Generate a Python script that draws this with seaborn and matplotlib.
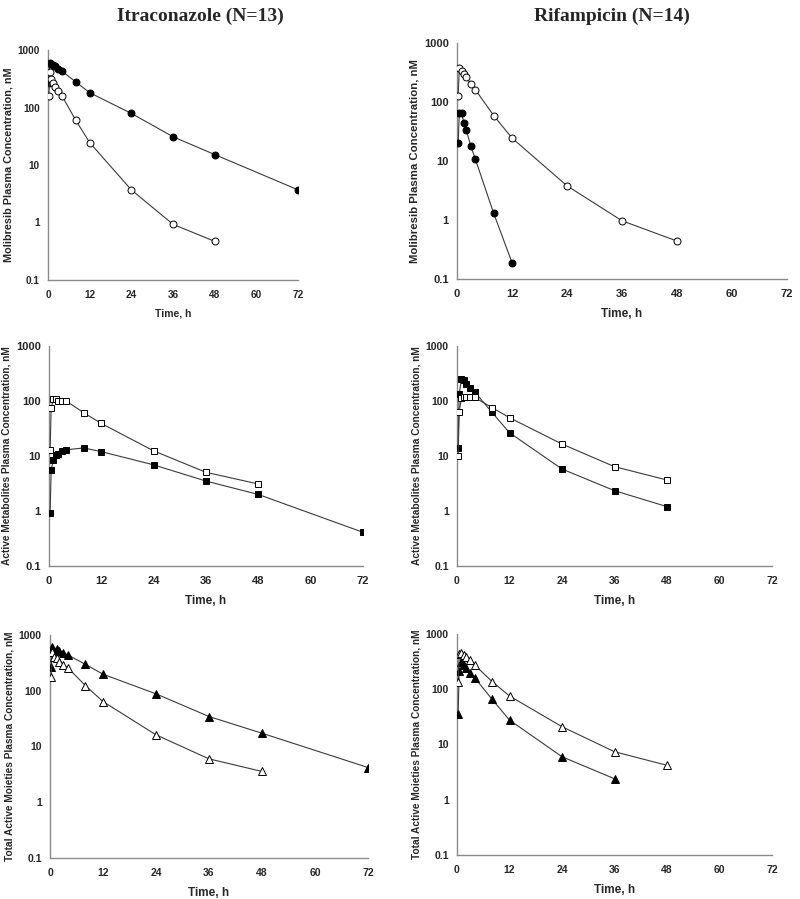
import matplotlib
matplotlib.use("Agg")
import matplotlib.pyplot as plt
import seaborn as sns
import numpy as np

sns.set_style("white")
plt.rcParams['font.family'] = ['Liberation Sans', 'DejaVu Sans']

# ---------------- data ----------------
t13 = [0.25, 0.5, 1, 1.5, 2, 3, 4, 8, 12, 24, 36, 48, 72]
t12 = [0.25, 0.5, 1, 1.5, 2, 3, 4, 8, 12, 24, 36, 48]
t11 = [0.25, 0.5, 1, 1.5, 2, 3, 4, 8, 12, 24, 36]
t9 = [0.25, 0.5, 1, 1.5, 2, 3, 4, 8, 12]

# Itraconazole - molibresib
itr_mol_with = [270, 600, 560, 540, 520, 470, 430, 278, 181, 79, 31, 15.2, 3.7]
itr_mol_alone = [160, 420, 310, 270, 230, 190, 160, 60, 24.5, 3.7, 0.93, 0.47]
# Rifampicin - molibresib
rif_mol_alone = [128, 370, 330, 300, 262, 205, 162, 59, 24.5, 3.8, 0.97, 0.44]
rif_mol_with = [20, 65, 65, 44, 34, 18, 10.8, 1.3, 0.19]
# Itraconazole - active metabolites
itr_met_alone = [12.8, 76, 107, 108, 100, 100, 99, 61, 39, 12.4, 5.05, 3.1]
itr_met_with = [0.93, 5.6, 8.4, 10.5, 11, 12.2, 13, 14, 12, 6.9, 3.5, 2.0, 0.41]
# Rifampicin - active metabolites
rif_met_with = [13.7, 132, 248, 240, 203, 175, 148, 62, 26.5, 5.8, 2.34, 1.2]
rif_met_alone = [10, 64, 112, 117, 120, 117, 116, 76, 49.7, 16.5, 6.4, 3.66]
# Itraconazole - total active moieties
itr_tot_with = [271, 618, 510, 555, 525, 483, 440, 298, 198, 88, 34.5, 17.3, 4.2]
itr_tot_alone = [174, 500, 410, 380, 333, 290, 260, 124, 64, 16.2, 6.0, 3.57]
# Rifampicin - total active moieties
rif_tot_alone = [134, 440, 450, 420, 380, 332, 277, 138, 75.6, 21, 7.4, 4.2]
rif_tot_with = [35, 210, 305, 277, 241, 195, 163, 66, 27.7, 6.0, 2.4]

xticks = [0, 12, 24, 36, 48, 60, 72]
yticks = [0.1, 1, 10, 100, 1000]
ytick_labels = ["0.1", "1", "10", "100", "1000"]

titles = ["Itraconazole (N=13)", "Rifampicin (N=14)"]
ylabels = ["Molibresib Plasma Concentration, nM",
           "Active Metabolites Plasma Concentration, nM",
           "Total Active Moieties Plasma Concentration, nM"]

fig = plt.figure(figsize=(8, 8.99), dpi=100)

W, H = 800.0, 899.0
def rect(x0, x1, yt, yb):
    return [x0 / W, 1 - yb / H, (x1 - x0) / W, (yb - yt) / H]

rects = {
    (0, 0): rect(48, 298, 50, 280),
    (0, 1): rect(457, 787, 43, 279),
    (1, 0): rect(49, 363, 346, 566),
    (1, 1): rect(457, 772, 346, 566),
    (2, 0): rect(50, 368, 635, 858),
    (2, 1): rect(457, 772, 634, 855),
}
ylab_fs = {(0, 0): 7.8, (0, 1): 8.2, (1, 0): 7.3, (1, 1): 7.3, (2, 0): 7.3, (2, 1): 7.3}
tick_fs = {(0, 0): 7.2, (0, 1): 8, (1, 0): 8, (1, 1): 7.5, (2, 0): 7.5, (2, 1): 7.5}

series = {
    (0, 0): [(t13, itr_mol_with, 'o', 'black'), (t12, itr_mol_alone, 'o', 'white')],
    (0, 1): [(t12, rif_mol_alone, 'o', 'white'), (t9, rif_mol_with, 'o', 'black')],
    (1, 0): [(t12, itr_met_alone, 's', 'white'), (t13, itr_met_with, 's', 'black')],
    (1, 1): [(t12, rif_met_alone, 's', 'white'), (t12, rif_met_with, 's', 'black')],
    (2, 0): [(t13, itr_tot_with, '^', 'black'), (t12, itr_tot_alone, '^', 'white')],
    (2, 1): [(t12, rif_tot_alone, '^', 'white'), (t11, rif_tot_with, '^', 'black')],
}

line_col = '#3a3a3a'
spine_col = '#8a8a8a'

for (r, c), rc in rects.items():
    ax = fig.add_axes(rc)
    for (tt, yy, mk, fc) in series[(r, c)]:
        ms = 5.0 if mk == 'o' else (4.6 if mk == 's' else 5.3)
        sns.lineplot(x=tt, y=yy, ax=ax, color=line_col, lw=0.8,
                     marker=mk, markerfacecolor=fc, markeredgecolor='black',
                     markeredgewidth=0.7, markersize=ms, zorder=3 if fc == 'black' else 4)
    ax.set_yscale('log')
    ax.set_ylim(0.1, 1000)
    ax.set_xlim(0, 72)
    ax.set_xticks(xticks)
    ax.set_xticklabels([str(v) for v in xticks], fontweight='bold', fontsize=tick_fs[(r, c)])
    ax.set_yticks(yticks)
    ax.set_yticklabels(ytick_labels, fontweight='bold', fontsize=tick_fs[(r, c)])
    ax.minorticks_off()
    ax.yaxis.set_minor_locator(matplotlib.ticker.NullLocator())
    for s in ['top', 'right']:
        ax.spines[s].set_visible(False)
    for s in ['left', 'bottom']:
        ax.spines[s].set_color(spine_col)
        ax.spines[s].set_linewidth(1.0)
    ax.tick_params(axis='x', direction='inout', length=5, width=0.9, color=spine_col, pad=5)
    ax.tick_params(axis='y', direction='out', length=4, width=0.9, color=spine_col, pad=2)
    ax.set_xlabel("Time, h", fontweight='bold', fontsize=8.5 if (r, c) != (0, 0) else 7.5,
                  labelpad=6)
    ax.set_ylabel(ylabels[r], fontweight='bold', fontsize=ylab_fs[(r, c)], labelpad=3)
    ax.set_facecolor('white')
    ax.grid(False)

fig.text(200 / W, 1 - 16 / H, titles[0], ha='center', va='center',
         fontsize=14, fontweight='bold', family=['Liberation Serif', 'DejaVu Serif'])
fig.text(612 / W, 1 - 16 / H, titles[1], ha='center', va='center',
         fontsize=14, fontweight='bold', family=['Liberation Serif', 'DejaVu Serif'])

fig.savefig("out.png", dpi=100, facecolor='white')
